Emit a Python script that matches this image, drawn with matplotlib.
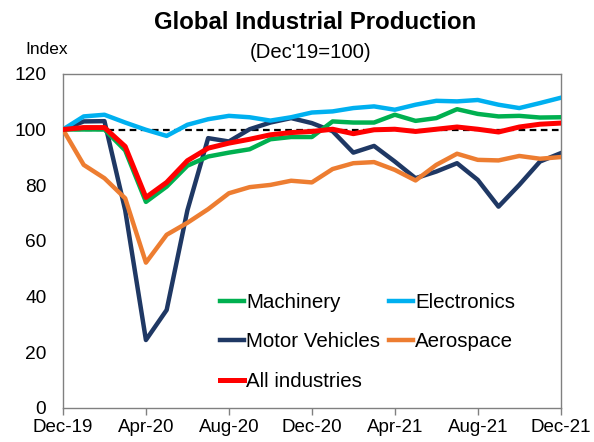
import matplotlib.pyplot as plt

plt.rcParams['font.family'] = ['Liberation Sans', 'DejaVu Sans']

months = list(range(25))
tick_pos = [0, 4, 8, 12, 16, 20, 24]
tick_labels = ['Dec-19', 'Apr-20', 'Aug-20', 'Dec-20', 'Apr-21', 'Aug-21', 'Dec-21']

machinery = [100, 100, 100, 92.5, 74, 79.5, 87, 90.3, 91.7, 92.9, 96.5, 97.3, 97.3,
             102.9, 102.5, 102.5, 105.3, 103.1, 104.1, 107.3, 105.6, 104.7, 104.9, 104.3, 104.4]
electronics = [100, 104.7, 105.3, 102.5, 99.9, 97.7, 101.7, 103.7, 104.9, 104.4, 103.2, 104.4, 106.1,
               106.5, 107.7, 108.3, 107.1, 108.9, 110.3, 110.1, 110.6, 108.9, 107.7, 109.5, 111.4]
motor_vehicles = [100, 102.9, 103, 71, 24.4, 35.2, 71, 96.9, 95.7, 100.1, 102.5, 104.1, 102.3,
                  99.4, 91.7, 94.1, 88.5, 82.5, 84.9, 87.9, 81.9, 72.3, 80.1, 88.5, 91.5]
aerospace = [100, 87.3, 82.5, 75.3, 52.2, 62.2, 66.5, 71.4, 77.1, 79.3, 80.1, 81.6, 81,
             85.8, 87.9, 88.3, 85.5, 81.7, 87.3, 91.3, 89.1, 88.9, 90.5, 89.5, 90.1]
all_industries = [100, 100.7, 100.7, 93.9, 75.6, 81, 88.8, 93.3, 95.1, 96.5, 98.1, 98.9, 99.3,
                  100.1, 98.5, 99.9, 100.1, 99.3, 100.1, 100.9, 100.1, 99.1, 100.9, 101.9, 102.3]

fig = plt.figure(figsize=(5.94, 4.42), dpi=100)
ax = fig.add_axes([0.106, 0.077, 0.838, 0.756])

ax.axhline(100, color='black', lw=1.6, ls=(0, (3, 2)), zorder=1)
lw = 3.2
l_mv, = ax.plot(months, motor_vehicles, color='#1F3864', lw=lw, label='Motor Vehicles', zorder=2)
l_ae, = ax.plot(months, aerospace, color='#ED7D31', lw=lw, label='Aerospace', zorder=3)
l_el, = ax.plot(months, electronics, color='#00B0F0', lw=lw, label='Electronics', zorder=4)
l_ma, = ax.plot(months, machinery, color='#00B050', lw=lw, label='Machinery', zorder=5)
l_all, = ax.plot(months, all_industries, color='#FF0000', lw=3.6, label='All industries', zorder=6)

ax.set_xlim(0, 24)
ax.set_ylim(0, 120)
ax.set_yticks(range(0, 121, 20))
ax.set_xticks(tick_pos)
ax.set_xticklabels(tick_labels)
ax.tick_params(axis='y', length=0, pad=12, labelsize=13.8)
ax.tick_params(axis='x', length=5, width=1, color='#808080', pad=3, labelsize=13.5)
for s in ax.spines.values():
    s.set_color('#808080')
    s.set_linewidth(1)

ax.legend(handles=[l_ma, l_mv, l_all, l_el, l_ae], ncol=2, frameon=False,
          loc='upper left', bbox_to_anchor=(0.279, 0.40), fontsize=14.8,
          handlelength=1.15, handletextpad=0.1, labelspacing=1.0, columnspacing=0.45)

fig.text(0.53, 0.95, 'Global Industrial Production', ha='center', va='center',
         fontsize=17.3, fontweight='bold')
fig.text(0.522, 0.882, "(Dec'19=100)", ha='center', va='center', fontsize=14.6)
fig.text(0.079, 0.887, 'Index', ha='center', va='center', fontsize=12.5)

fig.savefig('out.png', dpi=100)
